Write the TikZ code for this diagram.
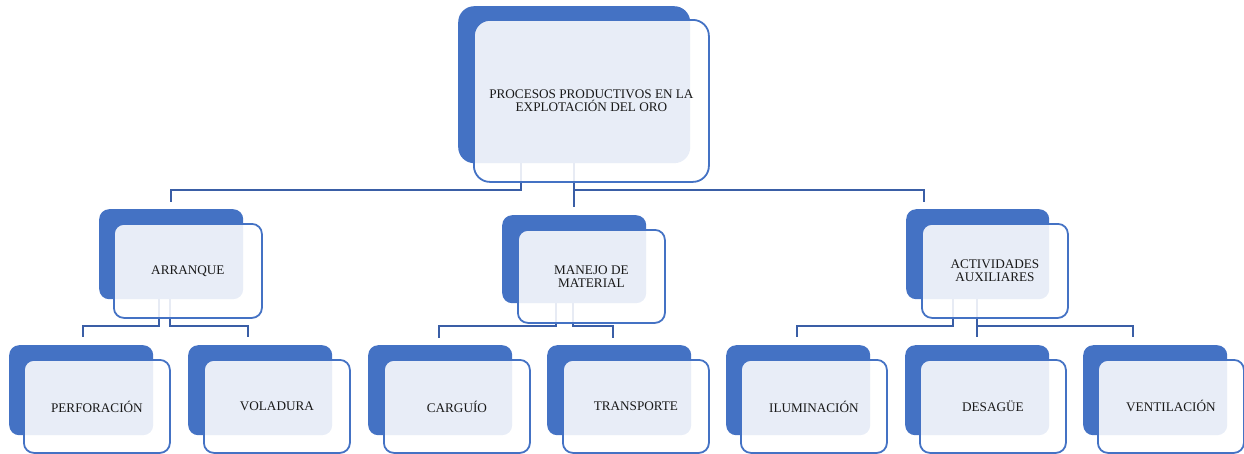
\documentclass[tikz,border=0pt]{standalone}
\usepackage{fontspec}
\setmainfont{Liberation Serif}
\definecolor{boxblue}{RGB}{68,114,196}
\definecolor{linkblue}{RGB}{58,94,166}
\definecolor{txt}{RGB}{25,25,25}
\begin{document}
\begin{tikzpicture}[x=1pt,y=-1pt,
  back/.style={fill=boxblue, draw=none, rounded corners=10pt, anchor=north west, inner sep=0pt},
  front/.style={fill=white, fill opacity=0.88, text opacity=1, draw=boxblue, line width=1.8pt,
     rounded corners=10pt, anchor=north west, inner sep=0pt, align=center, text=txt,
     font=\fontsize{13.2}{13.2}\selectfont},
  conn/.style={draw=linkblue, line width=2.6pt}]
\useasboundingbox (0,0) rectangle (1244,453);

% back boxes
\node[back, rounded corners=16pt, minimum width=232pt, minimum height=157pt] (b0) at (458,6) {};
\node[back, minimum width=144pt, minimum height=90pt] (b1) at (99,209) {};
\node[back, minimum width=144pt, minimum height=88pt] (b2) at (502,215) {};
\node[back, minimum width=143pt, minimum height=90pt] (b3) at (906,209) {};
\foreach \n/\x in {11/9,12/188,21/368,22/547,31/726,32/905,33/1083}
  \node[back, minimum width=144pt, minimum height=90pt] (b\n) at (\x,345) {};

% connector bends
\coordinate (c0l) at (521,190);
\coordinate (c0r) at (574,190);
\coordinate (e1) at (171,202);
\coordinate (e2) at (574,207);
\coordinate (e3) at (924,202);
\coordinate (c1l) at (159,326);
\coordinate (c1r) at (170,326);
\coordinate (e11) at (83,337);
\coordinate (e12) at (248,337);
\coordinate (c2l) at (556,326);
\coordinate (c2r) at (573,326);
\coordinate (e21) at (439,338);
\coordinate (e22) at (613,338);
\coordinate (c3l) at (953,326);
\coordinate (c3r) at (977,326);
\coordinate (e31) at (797,337);
\coordinate (e32) at (977,337);
\coordinate (e33) at (1133,337);

\draw[conn] (c0l |- b0.south) -- (c0l) -| (e1);
\draw[conn] (e2 |- b0.south) -- (e2);
\draw[conn] (c0r) -| (e3);
\draw[conn] (c1l |- b1.south) -- (c1l) -| (e11);
\draw[conn] (c1r |- b1.south) -- (c1r) -| (e12);
\draw[conn] (c2l |- b2.south) -- (c2l) -| (e21);
\draw[conn] (c2r |- b2.south) -- (c2r) -| (e22);
\draw[conn] (c3l |- b3.south) -- (c3l) -| (e31);
\draw[conn] (c3r |- b3.south) -- (e32);
\draw[conn] (c3r) -| (e33);

% front boxes
\node[front, rounded corners=16pt, minimum width=235pt, minimum height=162pt] (f0) at (473,19) {PROCESOS PRODUCTIVOS EN LA\\EXPLOTACIÓN DEL ORO};
\node[front, minimum width=148pt, minimum height=94pt] (f1) at (113,223) {ARRANQUE};
\node[front, minimum width=147pt, minimum height=93pt] (f2) at (517,229) {MANEJO DE\\MATERIAL};
\node[front, minimum width=146pt, minimum height=94pt] (f3) at (921,223) {ACTIVIDADES\\AUXILIARES};
\foreach \n/\x/\t in {11/23/PERFORACIÓN,12/203/VOLADURA,21/383/CARGUÍO,22/562/TRANSPORTE,31/740/ILUMINACIÓN,32/919/DESAGÜE,33/1097/VENTILACIÓN}
  \node[front, minimum width=146pt, minimum height=93pt] (f\n) at (\x,359) {\t};
\end{tikzpicture}
\end{document}
